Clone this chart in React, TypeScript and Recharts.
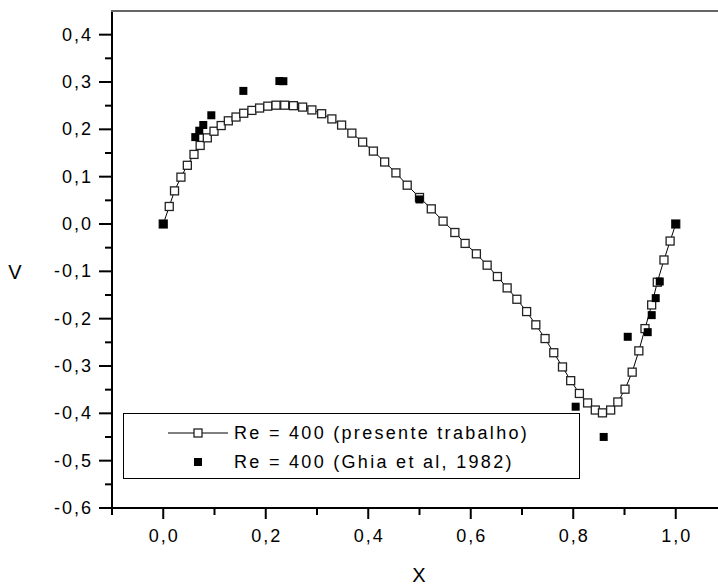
import React from "react";
import { Scatter, ScatterChart, XAxis, YAxis } from "recharts";

// perfil de V na linha horizontal central, Re = 400
const presenteX = [
  0.0, 0.0117, 0.022, 0.0345, 0.047, 0.06, 0.072, 0.086, 0.099, 0.113, 0.127, 0.142, 0.157, 0.173, 0.188, 0.204,
  0.22, 0.237, 0.254, 0.272, 0.29, 0.309, 0.329, 0.348, 0.368, 0.389, 0.41, 0.432, 0.454, 0.476, 0.5, 0.523,
  0.546, 0.569, 0.589, 0.611, 0.632, 0.652, 0.671, 0.69, 0.709, 0.727, 0.745, 0.762, 0.779, 0.795, 0.812, 0.828,
  0.843, 0.857, 0.873, 0.887, 0.901, 0.915, 0.928, 0.94, 0.953, 0.964, 0.977, 0.989, 1.0,
];
const presenteV = [
  0.0, 0.037, 0.07, 0.099, 0.124, 0.147, 0.166, 0.182, 0.196, 0.208, 0.218, 0.226, 0.234, 0.24, 0.245, 0.249,
  0.251, 0.251, 0.25, 0.247, 0.241, 0.233, 0.222, 0.209, 0.192, 0.173, 0.154, 0.131, 0.108, 0.082, 0.056, 0.032,
  0.006, -0.018, -0.041, -0.063, -0.087, -0.111, -0.135, -0.159, -0.185, -0.213, -0.242, -0.272, -0.302, -0.331,
  -0.358, -0.378, -0.393, -0.399, -0.393, -0.376, -0.349, -0.313, -0.268, -0.221, -0.171, -0.123, -0.076, -0.036,
  0.0,
];

const ghiaX = [0.0, 0.0625, 0.0703, 0.0781, 0.0938, 0.1563, 0.2266, 0.2344, 0.5, 0.8047, 0.8594, 0.9063, 0.9453, 0.9531, 0.9609, 0.9688, 1.0];
const ghiaV = [0.0, 0.1836, 0.1971, 0.2092, 0.2297, 0.2812, 0.302, 0.3017, 0.0519, -0.386, -0.4499, -0.2383, -0.2285, -0.1925, -0.1566, -0.1215, 0.0];

const xTicks = [-0.1, 0.0, 0.1, 0.2, 0.3, 0.4, 0.5, 0.6, 0.7, 0.8, 0.9, 1.0, 1.1];
const yTicks = [
  -0.6, -0.55, -0.5, -0.45, -0.4, -0.35, -0.3, -0.25, -0.2, -0.15, -0.1, -0.05, 0.0, 0.05, 0.1, 0.15, 0.2, 0.25,
  0.3, 0.35, 0.4,
];

const presente = presenteX.map((x, i) => ({ x, v: presenteV[i] }));
const ghia = ghiaX.map((x, i) => ({ x, v: ghiaV[i] }));

const font = "'Liberation Sans', Arial, sans-serif";
const fmt = (v: number) => v.toFixed(1).replace(".", ",");

function XTick({ x, y, payload }: any) {
  const v = payload.value;
  const major = Math.abs(Math.round(v * 10)) % 2 === 0;
  return (
    <g>
      <line x1={x} x2={x} y1={y} y2={y + (major ? 11 : 7)} stroke="#000" strokeWidth={2} />
      {major && v >= 0 && v <= 1 && (
        <text x={x + 1} y={y + 34} textAnchor="middle" fontSize={18} letterSpacing={2} fontFamily={font} fill="#000">
          {fmt(v)}
        </text>
      )}
    </g>
  );
}

function YTick({ x, y, payload }: any) {
  const v = payload.value;
  const major = Math.abs(Math.round(v * 100)) % 10 === 0;
  return (
    <g>
      <line x1={x - (major ? 13 : 7)} x2={x} y1={y} y2={y} stroke="#000" strokeWidth={2} />
      {major && (
        <text x={x - 19} y={y + 6} textAnchor="end" fontSize={18} letterSpacing={2} fontFamily={font} fill="#000">
          {fmt(v)}
        </text>
      )}
    </g>
  );
}

const openSquare = (p: any) => (
  <rect x={p.cx - 4} y={p.cy - 4} width={8} height={8} fill="#fff" stroke="#222" strokeWidth={1.3} />
);
const filledSquare = (p: any) => <rect x={p.cx - 4} y={p.cy - 4} width={8} height={8} fill="#000" />;

export default function App() {
  return (
    <div style={{ position: "absolute", left: 0, top: 0, width: 718, height: 585, overflow: "hidden", background: "#fff" }}>
      <ScatterChart width={740} height={585} margin={{ top: 11, right: 13, bottom: 0, left: 0 }}>
        <XAxis
          type="number"
          dataKey="x"
          domain={[-0.1, 1.1]}
          ticks={xTicks}
          interval={0}
          tickSize={0}
          tickMargin={0}
          tickLine={false}
          tick={<XTick />}
          height={77}
          axisLine={{ stroke: "#000", strokeWidth: 2 }}
          allowDataOverflow
        />
        <YAxis
          type="number"
          dataKey="v"
          domain={[-0.6, 0.45]}
          ticks={yTicks}
          interval={0}
          tickSize={0}
          tickMargin={0}
          tickLine={false}
          tick={<YTick />}
          width={112}
          axisLine={{ stroke: "#000", strokeWidth: 2 }}
          allowDataOverflow
        />
        <Scatter
          data={presente}
          line={{ stroke: "#000", strokeWidth: 1 }}
          lineType="joint"
          shape={openSquare}
          isAnimationActive={false}
        />
        <Scatter data={ghia} shape={filledSquare} isAnimationActive={false} />
      </ScatterChart>

      {/* moldura superior */}
      <div style={{ position: "absolute", left: 111, top: 10, width: 607, height: 0, borderTop: "2px solid #666666" }} />

      <div style={{ position: "absolute", left: 0, top: 262, width: 30, textAlign: "center", fontFamily: font, fontSize: 20, lineHeight: "20px" }}>
        V
      </div>
      <div style={{ position: "absolute", left: 399, top: 565, width: 40, textAlign: "center", fontFamily: font, fontSize: 20, lineHeight: "20px" }}>
        X
      </div>

      <div
        style={{
          position: "absolute",
          left: 123,
          top: 413,
          width: 457,
          height: 66,
          boxSizing: "border-box",
          border: "1.5px solid #000",
          background: "#fff",
          fontFamily: font,
          fontSize: 18,
          letterSpacing: 2.3,
        }}
      >
        <svg width={110} height={66} style={{ position: "absolute", left: 0, top: 0 }}>
          <line x1={44} x2={104} y1={19} y2={19} stroke="#000" strokeWidth={1} />
          <rect x={70} y={15} width={8} height={8} fill="#fff" stroke="#222" strokeWidth={1.3} />
          <rect x={70} y={44} width={8} height={8} fill="#000" />
        </svg>
        <div style={{ position: "absolute", left: 110, top: 9, lineHeight: "20px", whiteSpace: "nowrap" }}>
          Re = 400 (presente trabalho)
        </div>
        <div style={{ position: "absolute", left: 110, top: 38, lineHeight: "20px", whiteSpace: "nowrap" }}>
          Re = 400 (Ghia et al, 1982)
        </div>
      </div>
    </div>
  );
}
